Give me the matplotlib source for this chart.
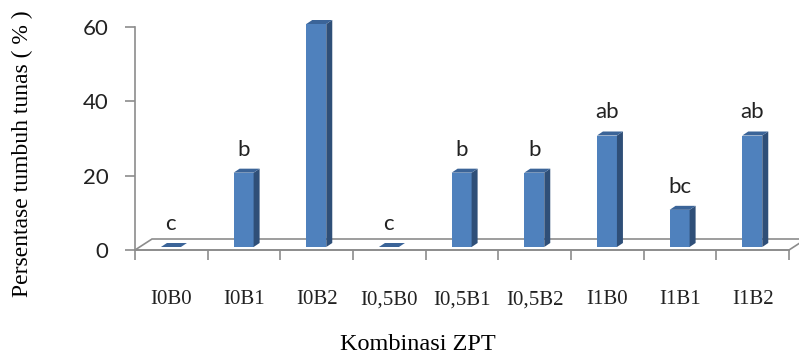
""" Persentase tumbuh tunas - 3D style bar chart """
import matplotlib
matplotlib.use('Agg')
import matplotlib.pyplot as plt
from matplotlib.patches import Polygon

categories = ['I0B0', 'I0B1', 'I0B2', 'I0,5B0', 'I0,5B1',
              'I0,5B2', 'I1B0', 'I1B1', 'I1B2']
values = [0, 20, 60, 0, 20, 20, 30, 10, 30]
letters = ['c', 'b', '', 'c', 'b', 'b', 'ab', 'bc', 'ab']
yticks = [0, 20, 40, 60]

W, H = 799, 360
fig = plt.figure(figsize=(W / 100, H / 100), dpi=100)
# axes covers the front plane of the chart (pixel coordinates)
left_px, right_px, bot_px, top_px = 135, 789, 250, 27
ax = fig.add_axes([left_px / W, 1 - bot_px / H,
                   (right_px - left_px) / W, (bot_px - top_px) / H])
n = len(categories)
ax.set_xlim(-0.5, n - 0.5)
ax.set_ylim(0, 60)

# pixel -> data conversion factors
px_x = (n) / (right_px - left_px)
px_y = 60 / (bot_px - top_px)

grey = '#8c8c8c'
front_col = '#4f81bd'
side_col = '#2f4f78'
top_col = '#3b6498'

# floor (depth 17px right, 11px up)
fdx, fdy = 17 * px_x, 11 * px_y
floor = Polygon([(-0.5, 0), (n - 0.5, 0), (n - 0.5 + fdx, fdy), (-0.5 + fdx, fdy)],
                closed=True, fill=False, edgecolor=grey, lw=1.2, clip_on=False, zorder=1)
ax.add_patch(floor)

# bars sit a little behind the front plane
ox, oy = 4.6 * px_x, 3 * px_y
face_l, face_r = -15 * px_x, 5 * px_x
sdx, sdy = 6 * px_x, 4 * px_y
for i, v in enumerate(values):
    x0 = i + face_l + ox
    x1 = i + face_r + ox
    y0 = oy
    y1 = v + oy
    if v > 0:
        ax.bar(x0, v, width=x1 - x0, bottom=y0, align='edge', color=front_col,
               edgecolor='none', zorder=3, clip_on=False)
        ax.add_patch(Polygon([(x1, y0), (x1 + sdx, y0 + sdy), (x1 + sdx, y1 + sdy), (x1, y1)],
                             closed=True, facecolor=side_col, edgecolor='none',
                             zorder=3, clip_on=False))
    ax.add_patch(Polygon([(x0, y1), (x1, y1), (x1 + sdx, y1 + sdy), (x0 + sdx, y1 + sdy)],
                         closed=True, facecolor=top_col, edgecolor='none',
                         zorder=3, clip_on=False))
    if letters[i]:
        ax.text((x0 + x1) / 2, y1 + 17 * px_y, letters[i], ha='center', va='baseline',
                fontsize=16, family='Lato', color='#222222', clip_on=False)

# axes styling
for s in ['top', 'right']:
    ax.spines[s].set_visible(False)
ax.spines['left'].set_color(grey)
ax.spines['bottom'].set_color(grey)
ax.spines['left'].set_linewidth(1.2)
ax.spines['bottom'].set_linewidth(1.2)
ax.set_yticks(yticks)
ax.set_yticklabels([str(t) for t in yticks], fontsize=16, family='Lato', color='#222222')
ax.tick_params(axis='y', length=7, color=grey, width=1.2, pad=12)

ax.set_xticks([i - 0.5 for i in range(n + 1)])
ax.set_xticklabels([])
ax.set_xticks(range(n), minor=True)
ax.set_xticklabels(categories, minor=True, fontsize=15, family='Liberation Serif', color='#222222')
ax.tick_params(axis='x', which='major', length=7, color=grey, width=1.2, direction='out')
ax.tick_params(axis='x', which='minor', length=0, pad=29)
ax.set_facecolor('none')

fig.text(418 / W, 1 - 345 / H, 'Kombinasi ZPT', ha='center', va='center',
         fontsize=17.5, family='Liberation Serif')
fig.text(22 / W, 1 - 154 / H, 'Persentase tumbuh tunas ( % )', ha='center', va='center',
         rotation=90, fontsize=17, family='Liberation Serif')

fig.savefig('out.png', dpi=100)
